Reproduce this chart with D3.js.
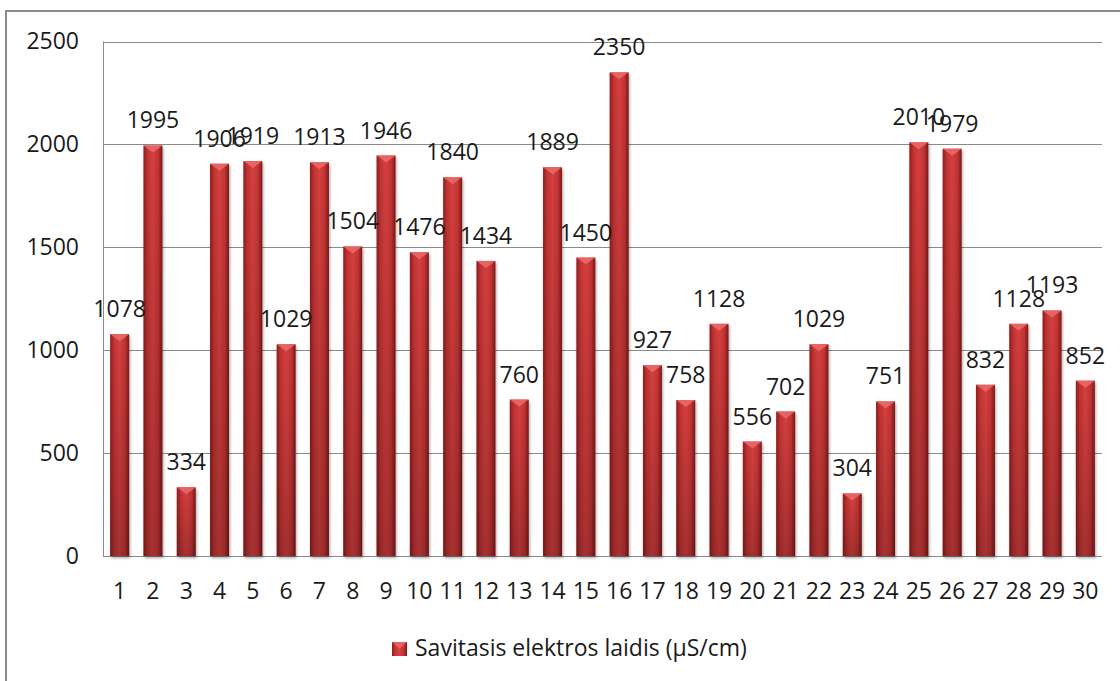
<html>
<head>
<meta charset="utf-8">
<script src="https://d3js.org/d3.v7.min.js"></script>
<style>
  body { margin: 0; background: white; }
  text { font-family: "Open Sans", sans-serif; fill: #1a1a1a; }
  .grid { stroke: #8a8a8a; stroke-width: 1px; }
</style>
</head>
<body>
<svg id="chart" width="1120" height="681"></svg>
<script>
  // data
  const samples = d3.range(1, 31).map(String);
  const values = [1078, 1995, 334, 1906, 1919, 1029, 1913, 1504, 1946, 1476,
                  1840, 1434, 760, 1889, 1450, 2350, 927, 758, 1128, 556,
                  702, 1029, 304, 751, 2010, 1979, 832, 1128, 1193, 852];
  const yTicks = [0, 500, 1000, 1500, 2000, 2500];
  const seriesName = "Savitasis elektros laidis (µS/cm)";

  const svg = d3.select("#chart");
  const margin = { top: 41.5, right: 18, bottom: 125, left: 103 };
  const width = +svg.attr("width");
  const height = +svg.attr("height");
  const fontSize = "23px";

  // outer chart border (right and bottom fall off the picture)
  svg.append("rect")
    .attr("x", 6).attr("y", 11)
    .attr("width", 1200).attr("height", 800)
    .attr("fill", "white")
    .attr("stroke", "#8a8a8a")
    .attr("stroke-width", 2);

  const defs = svg.append("defs");
  const hGrad = defs.append("linearGradient").attr("id", "barH")
    .attr("x1", 0).attr("x2", 1).attr("y1", 0).attr("y2", 0);
  hGrad.append("stop").attr("offset", "0%").attr("stop-color", "#8e1d1d");
  hGrad.append("stop").attr("offset", "22%").attr("stop-color", "#c23434");
  hGrad.append("stop").attr("offset", "50%").attr("stop-color", "#d63f3f");
  hGrad.append("stop").attr("offset", "78%").attr("stop-color", "#c23434");
  hGrad.append("stop").attr("offset", "100%").attr("stop-color", "#7e1717");

  const vGrad = defs.append("linearGradient").attr("id", "barV")
    .attr("x1", 0).attr("x2", 0).attr("y1", 0).attr("y2", 1);
  vGrad.append("stop").attr("offset", "0%").attr("stop-color", "#000").attr("stop-opacity", 0);
  vGrad.append("stop").attr("offset", "100%").attr("stop-color", "#000").attr("stop-opacity", 0.22);

  const shadow = defs.append("filter").attr("id", "shadow")
    .attr("x", "-20%").attr("y", "-5%").attr("width", "140%").attr("height", "115%");
  shadow.append("feGaussianBlur").attr("in", "SourceAlpha").attr("stdDeviation", 1.5);
  shadow.append("feOffset").attr("dx", 1).attr("dy", 2).attr("result", "off");
  shadow.append("feComponentTransfer").append("feFuncA").attr("type", "linear").attr("slope", 0.35);
  const merge = shadow.append("feMerge");
  merge.append("feMergeNode");
  merge.append("feMergeNode").attr("in", "SourceGraphic");

  const x = d3.scaleBand()
    .domain(samples)
    .range([margin.left, width - margin.right])
    .paddingInner(0.43)
    .paddingOuter(0.215);

  const y = d3.scaleLinear()
    .domain([0, 2500])
    .range([height - margin.bottom, margin.top]);

  // gridlines
  svg.append("g").selectAll("line").data(yTicks)
    .join("line")
    .attr("class", "grid")
    .attr("x1", margin.left).attr("x2", width - margin.right)
    .attr("y1", d => Math.round(y(d)) + 0.5).attr("y2", d => Math.round(y(d)) + 0.5);

  svg.append("line").attr("class", "grid")
    .attr("x1", margin.left + 0.5).attr("x2", margin.left + 0.5)
    .attr("y1", y(2500)).attr("y2", y(0));

  // y axis labels
  const yAxis = svg.append("g")
    .attr("transform", "translate(" + (margin.left - 24) + ",0)")
    .call(d3.axisLeft(y).tickValues(yTicks).tickFormat(d3.format("d")).tickSize(0).tickPadding(0));
  yAxis.select(".domain").remove();
  yAxis.selectAll("text")
    .style("font-family", "'Open Sans', sans-serif")
    .style("font-size", fontSize)
    .attr("fill", "#1a1a1a");

  // x axis labels
  const xAxis = svg.append("g")
    .attr("transform", "translate(0," + y(0) + ")")
    .call(d3.axisBottom(x).tickSize(0).tickPadding(27));
  xAxis.select(".domain").remove();
  xAxis.selectAll("text")
    .style("font-family", "'Open Sans', sans-serif")
    .style("font-size", fontSize)
    .attr("fill", "#1a1a1a");

  const data = samples.map((s, i) => ({ sample: s, value: values[i] }));

  const bars = svg.append("g").selectAll("g").data(data).join("g");

  bars.append("rect")
    .attr("x", d => x(d.sample))
    .attr("y", d => y(d.value))
    .attr("width", x.bandwidth())
    .attr("height", d => y(0) - y(d.value))
    .attr("fill", "url(#barH)")
    .attr("filter", "url(#shadow)");

  bars.append("rect")
    .attr("x", d => x(d.sample))
    .attr("y", d => y(d.value))
    .attr("width", x.bandwidth())
    .attr("height", d => y(0) - y(d.value))
    .attr("fill", "url(#barV)");

  // bevel highlight on top of each bar
  bars.append("path")
    .attr("d", d => {
      const x0 = x(d.sample), x1 = x0 + x.bandwidth(), yt = y(d.value);
      const xm = (x0 + x1) / 2;
      return "M" + x0 + "," + yt + "L" + x1 + "," + yt + "L" + xm + "," + (yt + 7) + "Z";
    })
    .attr("fill", "#ec6a6a")
    .attr("opacity", 0.85);

  // value labels
  svg.append("g").selectAll("text").data(data)
    .join("text")
    .attr("x", d => x(d.sample) + x.bandwidth() / 2)
    .attr("y", d => y(d.value) - 17)
    .attr("text-anchor", "middle")
    .style("font-size", fontSize)
    .text(d => d.value);

  // legend
  const legend = svg.append("g").attr("transform", "translate(392,642)");
  legend.append("rect")
    .attr("width", 15).attr("height", 14)
    .attr("fill", "url(#barH)");
  legend.append("path")
    .attr("d", "M0,0L15,0L7.5,7Z")
    .attr("fill", "#ec6a6a").attr("opacity", 0.8);
  legend.append("text")
    .attr("x", 23).attr("y", 14)
    .style("font-size", fontSize)
    .text(seriesName);
</script>
</body>
</html>
